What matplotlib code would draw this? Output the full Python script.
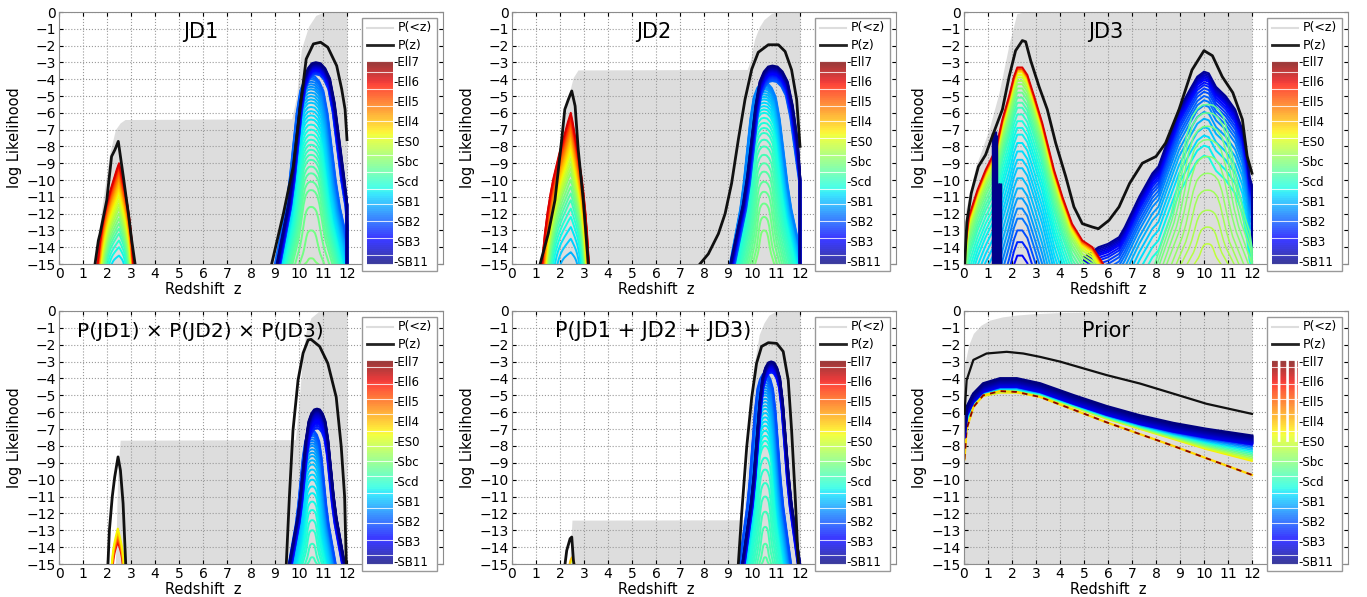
import numpy as np
import matplotlib.pyplot as plt
from matplotlib.patches import Rectangle

# template names shown in the legend colour strip (top -> bottom)
TEMPLATES = ['Ell7', 'Ell6', 'Ell5', 'Ell4', 'ES0', 'Sbc', 'Scd', 'SB1', 'SB2', 'SB3', 'SB11']
TITLES = ['JD1', 'JD2', 'JD3', 'P(JD1) \u00d7 P(JD2) \u00d7 P(JD3)', 'P(JD1 + JD2 + JD3)', 'Prior']

# shapes of one template likelihood curve (offset in z / depth)
PROF_U = [-1.0, -0.9, -0.8, -0.7, -0.6, -0.5, -0.4, -0.3, -0.2, -0.1, 0.0,
          0.1, 0.2, 0.3, 0.4, 0.5, 0.6, 0.7, 0.8, 0.9, 1.0]
PROF_BELL = [-1.0, -0.9, -0.8, -0.7, -0.56, -0.38, -0.2, -0.08, -0.03, -0.005, 0.0,
             -0.005, -0.03, -0.08, -0.2, -0.38, -0.56, -0.7, -0.8, -0.9, -1.0]
PROF_TENT = [-1.0, -0.8, -0.65, -0.53, -0.43, -0.35, -0.27, -0.2, -0.13, -0.06, 0.0,
             -0.06, -0.13, -0.2, -0.27, -0.35, -0.43, -0.53, -0.65, -0.8, -1.0]

# ---- JD1 ----
JD1_PZ_A_Z = [1.5, 1.64, 1.71, 1.99, 2.19, 2.33, 2.47, 2.68, 2.89, 3.03, 3.17]
JD1_PZ_A_Y = [-15, -13.6, -13.2, -11.2, -8.6, -8.2, -7.7, -9.8, -12.0, -13.6, -15]
JD1_PZ_B_Z = [8.86, 9.35, 9.76, 10.04, 10.3, 10.6, 10.9, 11.2, 11.57, 11.78, 11.92, 12.0]
JD1_PZ_B_Y = [-15, -12.0, -9.2, -5.8, -2.8, -1.9, -1.8, -2.1, -3.2, -4.6, -5.8, -7.6]
JD1_CUM_Z = [1.5, 1.8, 2.1, 2.35, 2.55, 2.75, 9.7, 9.9, 10.1, 10.4, 10.7, 11.0, 12.0]
JD1_CUM_Y = [-15, -11.5, -8.5, -7.0, -6.6, -6.4, -6.35, -5.0, -2.2, -0.85, -0.2, -0.03, 0.0]
JD1_A_PEAKS = [-9.0, -9.1, -9.2, -9.3, -9.45, -9.6, -9.75, -9.9, -10.1, -10.3, -10.5, -10.7,
               -10.95, -11.2, -11.45, -11.7, -12.0, -12.3, -12.6, -12.9, -13.2, -13.6, -14.0, -14.5]
JD1_A_HW = [0.78, 0.78, 0.77, 0.77, 0.76, 0.75, 0.74, 0.73, 0.72, 0.71, 0.7, 0.69,
            0.67, 0.65, 0.63, 0.61, 0.59, 0.56, 0.53, 0.5, 0.46, 0.41, 0.35, 0.26]
JD1_B1_PEAKS = [-3.0, -3.05, -3.1, -3.15, -3.2, -3.25, -3.3, -3.35, -3.4, -3.45, -3.5, -3.55, -3.6, -3.65, -3.7]
JD1_B1_HW = [1.62, 1.61, 1.6, 1.59, 1.58, 1.57, 1.56, 1.55, 1.54, 1.53, 1.52, 1.51, 1.5, 1.49, 1.48]
JD1_B2_PEAKS = [-3.8, -3.9, -4.0, -4.15, -4.3, -4.45, -4.6, -4.8, -5.0, -5.2, -5.4, -5.65, -5.9, -6.15, -6.4,
                -6.7, -7.0, -7.3, -7.6, -7.9, -8.2, -8.5, -8.8, -9.2, -9.6, -10.1, -10.6, -11.6, -13.0, -14.66]
JD1_B2_HW = [1.5, 1.49, 1.48, 1.46, 1.44, 1.42, 1.4, 1.38, 1.36, 1.34, 1.32, 1.3, 1.27, 1.24, 1.21,
             1.18, 1.15, 1.12, 1.09, 1.06, 1.03, 1.0, 0.96, 0.92, 0.88, 0.83, 0.77, 0.66, 0.48, 0.26]

# ---- JD2 ----
JD2_PZ_A_Z = [1.17, 1.51, 1.79, 2.07, 2.2, 2.35, 2.49, 2.63, 2.76, 2.97, 3.18]
JD2_PZ_A_Y = [-15, -13.2, -11.2, -7.6, -5.8, -5.2, -4.7, -5.6, -8.2, -11.2, -15]
JD2_PZ_B_Z = [7.83, 8.18, 8.6, 8.88, 9.15, 9.43, 9.71, 9.99, 10.26, 10.68, 11.1, 11.38, 11.65, 11.86, 12.0]
JD2_PZ_B_Y = [-15, -14.4, -13.2, -12.0, -10.2, -7.6, -5.2, -3.4, -2.4, -1.95, -1.95, -2.35, -3.45, -5.2, -8.0]
JD2_CUM_Z = [1.2, 1.6, 2.0, 2.3, 2.55, 2.75, 9.8, 9.95, 10.1, 10.3, 10.5, 10.8, 11.0, 12.0]
JD2_CUM_Y = [-15, -12.5, -8.0, -5.3, -3.9, -3.45, -3.42, -2.8, -1.65, -0.9, -0.45, -0.1, 0.0, 0.0]
JD2_A_PEAKS = [-6.0, -6.15, -6.3, -6.45, -6.6, -6.8, -7.0, -7.2, -7.4, -7.65, -7.9, -8.15, -8.4,
               -8.7, -9.0, -9.3, -9.6, -10.0, -10.4, -10.8, -11.2, -11.7, -12.2, -12.8, -13.5, -14.3]
JD2_A_HW = [0.8, 0.8, 0.79, 0.79, 0.78, 0.77, 0.76, 0.75, 0.74, 0.73, 0.72, 0.71, 0.7,
            0.69, 0.68, 0.67, 0.65, 0.63, 0.61, 0.59, 0.56, 0.53, 0.49, 0.44, 0.37, 0.28]
JD2_B1_PEAKS = [-3.2, -3.26, -3.32, -3.38, -3.44, -3.5, -3.56, -3.62, -3.68, -3.74, -3.8, -3.87, -3.94, -4.02, -4.1]
JD2_B1_HW = [1.75, 1.74, 1.73, 1.72, 1.71, 1.7, 1.69, 1.68, 1.67, 1.66, 1.65, 1.63, 1.61, 1.59, 1.57]
JD2_B2_PEAKS = [-4.2, -4.3, -4.4, -4.5, -4.6, -4.75, -4.9, -5.05, -5.2, -5.4, -5.6, -5.8, -6.0, -6.3,
                -6.6, -6.9, -7.2, -7.6, -8.0, -8.5, -9.0, -9.5, -10.1, -10.7, -11.4, -12.2, -13.0]
JD2_B2_HW = [1.42, 1.41, 1.4, 1.39, 1.38, 1.36, 1.34, 1.32, 1.3, 1.28, 1.26, 1.23, 1.2, 1.17,
             1.13, 1.09, 1.05, 1.0, 0.95, 0.9, 0.84, 0.78, 0.72, 0.65, 0.57, 0.47, 0.37]

# ---- JD3 ----
JD3_PZ_Z = [0.03, 0.12, 0.3, 0.6, 0.9, 1.18, 1.6, 1.88, 2.15, 2.43, 2.57, 2.78, 3.13, 3.47, 3.82, 4.24,
            4.58, 4.93, 5.35, 5.6, 6.04, 6.46, 6.9, 7.43, 8.0, 8.4, 8.96, 9.5, 10.0, 10.35, 10.76,
            11.2, 11.6, 11.8, 12.0]
JD3_PZ_Y = [-15, -12.5, -10.8, -9.2, -8.5, -7.4, -5.8, -3.85, -2.3, -1.7, -1.77, -2.9, -4.45, -5.8, -7.8, -9.8,
            -11.6, -12.6, -12.8, -12.9, -12.4, -11.6, -10.2, -9.0, -8.6, -7.8, -5.8, -3.45, -2.3, -2.6, -3.85,
            -4.8, -6.4, -8.6, -9.6]
JD3_CUM_Z = [0.0, 0.07, 0.49, 1.04, 1.46, 1.88, 2.2, 2.5, 12.0]
JD3_CUM_Y = [-13.8, -11.8, -9.2, -7.0, -4.8, -1.9, -0.1, 0.0, 0.0]
JD3_L_Z = [0.0, 0.2, 0.56, 0.9, 1.32, 1.6, 1.88, 2.08, 2.22, 2.43, 2.64, 2.92, 3.26, 3.54, 3.75,
           4.1, 4.5, 4.93, 5.35, 5.8]
JD3_L_Y = [-14.5, -12.2, -10.6, -9.4, -8.2, -6.4, -5.0, -3.85, -3.3, -3.3, -3.75, -5.0, -6.6, -8.2, -9.4,
           -11.0, -12.6, -13.6, -14.0, -15.0]
JD3_L_SHIFT = [0, -0.1, -0.2, -0.3, -0.45, -0.6, -0.8, -1.0, -1.25, -1.5, -1.8, -2.1, -2.4, -2.8, -3.2,
               -3.6, -4.0, -4.5, -5.0, -5.5, -6.0, -6.6, -7.2, -7.8, -8.4, -9.0, -9.7, -10.4, -11.2, -12.0]
JD3_L_T = [0.92, 0.82, 0.72, 0.66, 0.62, 0.58, 0.55, 0.52, 0.5, 0.48, 0.46, 0.44, 0.42, 0.4, 0.38,
           0.37, 0.36, 0.35, 0.34, 0.33, 0.32, 0.31, 0.3, 0.28, 0.26, 0.24, 0.2, 0.16, 0.12, 0.08]
JD3_R_Z = [5.0, 5.6, 6.0, 6.46, 6.7, 7.3, 7.85, 8.1, 8.5, 8.96, 9.4, 9.72, 10.0, 10.2, 10.5, 10.9,
           11.3, 11.6, 11.8, 11.9, 12.0, 12.0]
JD3_R_Y = [-14.6, -14.0, -13.8, -13.4, -12.8, -11.0, -9.6, -9.2, -7.6, -5.8, -4.65, -3.85, -3.55, -3.65,
           -4.45, -5.0, -5.8, -7.0, -8.6, -9.8, -10.3, -15.0]
JD3_R_SHIFT = [0, -0.1, -0.2, -0.3, -0.4, -0.5, -0.65, -0.8, -1.0, -1.2, -1.45, -1.7, -2.0, -2.4,
               -2.8, -3.3, -3.8, -4.4, -5.0]
JD3_G_PEAKS = [-5.5, -6.0, -6.8, -7.6, -8.6, -9.6, -10.6, -11.8, -12.8, -13.8]
JD3_G_HW = [2.2, 2.1, 2.0, 1.85, 1.7, 1.5, 1.3, 1.1, 0.85, 0.55]
JD3_SPIKE_Z = [1.22, 1.28, 1.34, 1.42, 1.5]
JD3_SPIKE_TOP = [-7.2, -7.1, -7.3, -10.2, -10.2]

# ---- P(JD1) x P(JD2) x P(JD3) ----
P4_PZ_A_Z = [2.04, 2.1, 2.22, 2.32, 2.46, 2.56, 2.67, 2.78]
P4_PZ_A_Y = [-15, -13.0, -11.0, -9.85, -8.65, -9.45, -11.4, -15]
P4_PZ_B_Z = [9.47, 9.6, 9.75, 9.96, 10.17, 10.38, 10.5, 10.86, 11.2, 11.55, 11.76, 11.9, 11.97]
P4_PZ_B_Y = [-15, -11.0, -7.07, -4.1, -2.5, -1.72, -1.68, -2.1, -3.1, -5.1, -8.05, -11.0, -15]
P4_CUM_Z = [2.35, 2.45, 2.55, 9.85, 10.0, 10.15, 10.3, 10.5, 10.8, 12.0]
P4_CUM_Y = [-15, -9.5, -7.66, -7.63, -5.5, -2.6, -1.2, -0.4, -0.05, 0.0]
P4_A_PEAKS = [-12.9, -13.1, -13.3, -13.5, -13.7]
P4_A_HW = [0.25, 0.24, 0.23, 0.22, 0.2]
P4_B1_PEAKS = [-5.8, -5.85, -5.9, -5.95, -6.0, -6.08, -6.16, -6.24, -6.32, -6.4, -6.5, -6.6, -6.7, -6.82, -6.95]
P4_B1_HW = [1.15, 1.15, 1.14, 1.14, 1.13, 1.13, 1.12, 1.12, 1.11, 1.1, 1.09, 1.08, 1.07, 1.06, 1.05]
P4_B2_PEAKS = [-7.1, -7.2, -7.3, -7.4, -7.55, -7.7, -7.85, -8.0, -8.2, -8.4, -8.6, -8.85, -9.1, -9.4,
               -9.7, -10.0, -10.4, -10.8, -11.3, -11.8, -12.4, -13.0, -13.8, -14.6]
P4_B2_HW = [0.98, 0.97, 0.96, 0.95, 0.94, 0.93, 0.92, 0.9, 0.88, 0.86, 0.84, 0.82, 0.79, 0.76,
            0.73, 0.7, 0.66, 0.62, 0.57, 0.52, 0.46, 0.4, 0.3, 0.2]

# ---- P(JD1 + JD2 + JD3) ----
P5_PZ_A_Z = [2.21, 2.28, 2.42, 2.49, 2.56, 2.58]
P5_PZ_A_Y = [-15, -14.2, -13.5, -13.4, -14.8, -15]
P5_PZ_B_Z = [9.43, 9.57, 9.78, 9.99, 10.19, 10.4, 10.68, 11.03, 11.3, 11.51, 11.65, 11.8, 11.93]
P5_PZ_B_Y = [-15, -12.0, -8.06, -5.1, -3.1, -2.1, -1.88, -1.92, -2.4, -4.1, -7.07, -11.0, -15]
P5_CUM_Z = [2.4, 2.5, 9.65, 9.8, 9.95, 10.1, 10.3, 10.5, 10.7, 10.96, 12.0]
P5_CUM_Y = [-15, -12.4, -12.38, -9.0, -5.5, -3.1, -1.4, -0.7, -0.25, -0.04, 0.0]
P5_A_PEAKS = [-14.6, -14.8]
P5_A_HW = [0.1, 0.08]
P5_B1_PEAKS = [-3.0, -3.04, -3.08, -3.12, -3.16, -3.2, -3.25, -3.3, -3.35, -3.4, -3.46, -3.52, -3.58, -3.64]
P5_B1_HW = [1.2, 1.2, 1.19, 1.19, 1.18, 1.18, 1.17, 1.17, 1.16, 1.15, 1.14, 1.13, 1.12, 1.11]
P5_B2_PEAKS = [-3.7, -3.8, -3.9, -4.0, -4.1, -4.25, -4.4, -4.55, -4.7, -4.85, -5.0, -5.2, -5.4, -5.6,
               -5.8, -6.05, -6.3, -6.55, -6.8, -7.1, -7.4, -7.7, -8.0, -8.7, -9.4, -10.2, -11.0,
               -11.9, -12.8, -13.8, -14.6]
P5_B2_HW = [1.08, 1.07, 1.06, 1.05, 1.04, 1.03, 1.02, 1.0, 0.99, 0.98, 0.96, 0.95, 0.93, 0.91,
            0.89, 0.87, 0.85, 0.83, 0.81, 0.79, 0.77, 0.74, 0.71, 0.66, 0.61, 0.55, 0.49,
            0.42, 0.34, 0.25, 0.15]

# ---- Prior ----
PRIOR_PZ_Z = [0.02, 0.11, 0.39, 0.94, 1.78, 2.47, 3.17, 4.0, 4.97, 5.94, 7.33, 8.72, 10.1, 12.0]
PRIOR_PZ_Y = [-6.1, -4.1, -2.9, -2.52, -2.42, -2.52, -2.72, -3.0, -3.4, -3.8, -4.3, -4.9, -5.5, -6.1]
PRIOR_CUM_Z = [0.0, 0.04, 0.2, 0.39, 0.7, 1.08, 1.6, 2.2, 3.0, 3.86, 6.0, 12.0]
PRIOR_CUM_Y = [-3.3, -3.1, -2.0, -1.33, -0.85, -0.54, -0.35, -0.24, -0.15, -0.1, -0.05, -0.02]
PRIOR_T_Z = [0.02, 0.11, 0.39, 0.8, 1.5, 2.2, 3.17, 4.56, 5.94, 7.33, 8.72, 10.1, 12.0]
PRIOR_TOP = [-7.0, -5.7, -4.9, -4.3, -4.0, -4.0, -4.3, -5.0, -5.65, -6.2, -6.65, -7.0, -7.4]
PRIOR_BOTTOM = [-8.5, -6.8, -5.6, -5.05, -4.85, -4.85, -5.05, -5.7, -6.4, -7.0, -7.6, -8.2, -8.9]
PRIOR_ELL = [-8.8, -7.0, -5.7, -5.0, -4.75, -4.8, -5.1, -5.85, -6.6, -7.3, -8.0, -8.73, -9.72]
PRIOR_NAVY_SHIFT = [0.0, -0.06, -0.12, -0.18, -0.24, -0.3, -0.36, -0.42, -0.48]
PRIOR_FRAC = [0.0, 0.08, 0.16, 0.25, 0.35, 0.45, 0.55, 0.65, 0.75, 0.85, 0.93, 1.0]

ZMAX, YMIN = 12.0, -15.0
cmap = plt.get_cmap('jet')
GRAY = '#dddddd'
BLACK = '#111111'


def draw_family(ax, zc, peaks, hws, t0, t1, skew=(1.0, 1.0), lw=1.4, prof=PROF_BELL):
    u = np.array(PROF_U)
    v = np.array(prof)
    sc = np.where(u < 0, skew[0], skew[1])
    ts = np.linspace(t0, t1, len(peaks))
    # innermost first, outer templates on top
    for pk, hw, t in list(zip(peaks, hws, ts))[::-1]:
        z = np.minimum(zc + u * hw * sc, ZMAX)
        y = pk + v * (pk - YMIN)
        ax.plot(z, y, color=cmap(t), lw=lw, zorder=2)


def draw_shifted(ax, zs, ys, shifts, ts, lw=1.4):
    for s, t in list(zip(shifts, ts))[::-1]:
        ax.plot(zs, np.array(ys) + s, color=cmap(t), lw=lw, zorder=2)


def draw_legend(ax, dashed_early=False):
    tr = ax.transAxes
    ax.add_patch(Rectangle((0.789, -0.028), 0.195, 1.004, transform=tr, facecolor='white',
                           edgecolor='0.6', lw=1.0, zorder=5, clip_on=False))
    ax.plot([0.802, 0.87], [0.938, 0.938], transform=tr, color=GRAY, lw=1.5, zorder=6, clip_on=False)
    ax.text(0.883, 0.938, 'P(<z)', transform=tr, fontsize=9, va='center', zorder=7)
    ax.plot([0.802, 0.87], [0.869, 0.869], transform=tr, color='#222222', lw=2, zorder=6, clip_on=False)
    ax.text(0.883, 0.869, 'P(z)', transform=tr, fontsize=9, va='center', zorder=7)
    for t in np.linspace(0, 1, 95):
        y = 0.004 + t * 0.794
        ls = (0, (2.6, 1.2)) if (dashed_early and t > 0.6) else '-'
        ax.plot([0.802, 0.87], [y, y], transform=tr, color=cmap(t), alpha=0.75, lw=1.6, ls=ls,
                zorder=6, clip_on=False, solid_capstyle='butt')
    for k, name in enumerate(TEMPLATES):
        ax.text(0.872, 0.798 - k * 0.0794, '-' + name, transform=tr, fontsize=8.5,
                va='center', ha='left', zorder=7)


W, H = 1367, 597
fig = plt.figure(figsize=(W / 100, H / 100), dpi=100)
lefts = [59, 512, 964]
tops = [12, 311]
heights = [252, 253]
axes = []
for r in range(2):
    for c in range(3):
        ax = fig.add_axes([lefts[c] / W, 1 - (tops[r] + heights[r]) / H, 384 / W, heights[r] / H])
        axes.append(ax)

for i, ax in enumerate(axes):
    ax.set_xlim(0, 16)
    ax.set_ylim(-15, 0)
    ax.set_xticks(range(0, 13))
    ax.set_yticks(range(-15, 1))
    ax.tick_params(direction='in', length=3, labelsize=10, top=True, right=True, pad=2)
    ax.grid(True, linestyle=':', color='#999999', lw=0.8)
    ax.set_axisbelow(True)
    for sp in ax.spines.values():
        sp.set_color('0.55')
    ax.set_xlabel('Redshift  z', fontsize=10.5)
    ax.xaxis.set_label_coords(0.375, -0.072)
    ax.set_ylabel('log Likelihood', fontsize=10.5)
    ax.yaxis.set_label_coords(-0.097, 0.5)
    ax.text(5.9, -1.2, TITLES[i], fontsize=15 if i != 3 else 14.5, ha='center', va='center', zorder=4)
    draw_legend(ax, dashed_early=(i == 5))

# JD1
ax = axes[0]
ax.fill_between(JD1_CUM_Z, YMIN, JD1_CUM_Y, color=GRAY, lw=0, zorder=0.3)
draw_family(ax, 2.5, JD1_A_PEAKS, JD1_A_HW, 0.92, 0.35, skew=(1.15, 0.77), prof=PROF_TENT)
draw_family(ax, 10.5, JD1_B2_PEAKS, JD1_B2_HW, 0.22, 0.5, skew=(1.0, 1.15))
draw_family(ax, 10.7, JD1_B1_PEAKS, JD1_B1_HW, 0.0, 0.2, skew=(1.0, 1.2), lw=1.7)
ax.plot(JD1_PZ_A_Z, JD1_PZ_A_Y, color=BLACK, lw=2, zorder=3)
ax.plot(JD1_PZ_B_Z, JD1_PZ_B_Y, color=BLACK, lw=2, zorder=3)

# JD2
ax = axes[1]
ax.fill_between(JD2_CUM_Z, YMIN, JD2_CUM_Y, color=GRAY, lw=0, zorder=0.3)
draw_family(ax, 2.45, JD2_A_PEAKS, JD2_A_HW, 0.92, 0.3, skew=(1.5, 0.94), prof=PROF_TENT)
draw_family(ax, 10.5, JD2_B2_PEAKS, JD2_B2_HW, 0.25, 0.5, skew=(1.0, 1.15))
draw_family(ax, 10.85, JD2_B1_PEAKS, JD2_B1_HW, 0.0, 0.22, skew=(1.0, 1.2), lw=1.7)
ax.plot(JD2_PZ_A_Z, JD2_PZ_A_Y, color=BLACK, lw=2, zorder=3)
ax.plot(JD2_PZ_B_Z, JD2_PZ_B_Y, color=BLACK, lw=2, zorder=3)

# JD3
ax = axes[2]
ax.fill_between(JD3_CUM_Z, YMIN, JD3_CUM_Y, color=GRAY, lw=0, zorder=0.3)
draw_shifted(ax, JD3_R_Z, JD3_R_Y, JD3_R_SHIFT, np.linspace(0.02, 0.38, len(JD3_R_SHIFT)))
draw_family(ax, 10.15, JD3_G_PEAKS, JD3_G_HW, 0.47, 0.58, lw=1.1)
draw_shifted(ax, JD3_L_Z, JD3_L_Y, JD3_L_SHIFT, JD3_L_T)
ax.vlines(JD3_SPIKE_Z, YMIN, JD3_SPIKE_TOP, color='#00008b', lw=2.5, zorder=2.5)
ax.plot(JD3_PZ_Z, JD3_PZ_Y, color=BLACK, lw=2, zorder=3)

# P(JD1) x P(JD2) x P(JD3)
ax = axes[3]
ax.fill_between(P4_CUM_Z, YMIN, P4_CUM_Y, color=GRAY, lw=0, zorder=0.3)
draw_family(ax, 2.45, P4_A_PEAKS, P4_A_HW, 0.65, 0.9, prof=PROF_TENT)
draw_family(ax, 10.55, P4_B2_PEAKS, P4_B2_HW, 0.2, 0.42)
draw_family(ax, 10.75, P4_B1_PEAKS, P4_B1_HW, 0.0, 0.16, lw=1.7)
ax.plot(P4_PZ_A_Z, P4_PZ_A_Y, color=BLACK, lw=2, zorder=3)
ax.plot(P4_PZ_B_Z, P4_PZ_B_Y, color=BLACK, lw=2, zorder=3)

# P(JD1 + JD2 + JD3)
ax = axes[4]
ax.fill_between(P5_CUM_Z, YMIN, P5_CUM_Y, color=GRAY, lw=0, zorder=0.3)
draw_family(ax, 2.5, P5_A_PEAKS, P5_A_HW, 0.7, 0.62, prof=PROF_TENT)
draw_family(ax, 10.55, P5_B2_PEAKS, P5_B2_HW, 0.2, 0.45)
draw_family(ax, 10.8, P5_B1_PEAKS, P5_B1_HW, 0.0, 0.16, lw=1.7)
ax.plot(P5_PZ_A_Z, P5_PZ_A_Y, color=BLACK, lw=2, zorder=3)
ax.plot(P5_PZ_B_Z, P5_PZ_B_Y, color=BLACK, lw=2, zorder=3)

# Prior
ax = axes[5]
ax.fill_between(PRIOR_CUM_Z, YMIN, PRIOR_CUM_Y, color=GRAY, lw=0, zorder=0.3)
top = np.array(PRIOR_TOP)
low = top + PRIOR_NAVY_SHIFT[-1]
bot = np.array(PRIOR_BOTTOM)
ts = np.linspace(0.13, 0.66, len(PRIOR_FRAC))
for f, t in list(zip(PRIOR_FRAC, ts))[::-1]:
    ax.plot(PRIOR_T_Z, low + f * (bot - low), color=cmap(t), lw=1.2, zorder=2)
ax.plot(PRIOR_T_Z, PRIOR_ELL, color='#ffd700', lw=1.6, zorder=2.2)
ax.plot(PRIOR_T_Z, PRIOR_ELL, color='#8b0000', lw=1.3, ls=(0, (3, 3)), zorder=2.3)
navy_t = np.linspace(0.0, 0.1, len(PRIOR_NAVY_SHIFT))
for s, t in list(zip(PRIOR_NAVY_SHIFT, navy_t))[::-1]:
    ax.plot(PRIOR_T_Z, top + s, color=cmap(t), lw=2.0, zorder=2.4)
ax.plot(PRIOR_PZ_Z, PRIOR_PZ_Y, color=BLACK, lw=1.6, zorder=3)

fig.savefig('out.png', dpi=100)
